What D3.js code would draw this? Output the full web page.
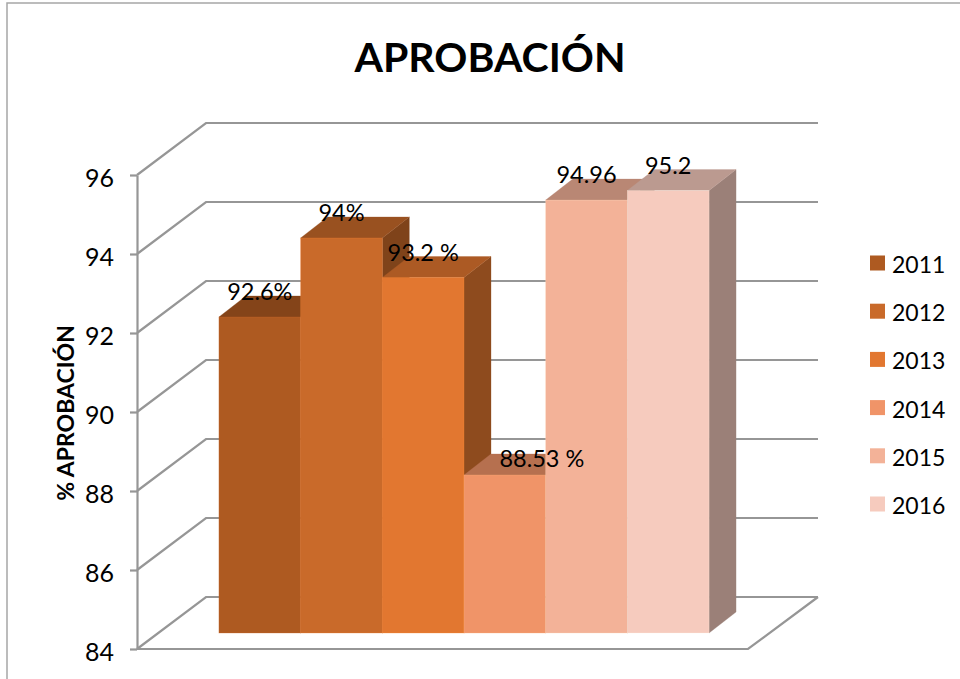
<!DOCTYPE html>
<html>
<head>
<meta charset="utf-8">
<script src="https://cdn.jsdelivr.net/npm/d3@7"></script>
<style>
	html, body { margin: 0; padding: 0; background: #fff; }
	svg { display: block; }
	text { font-family: Lato, "Open Sans", sans-serif; fill: #000; }
</style>
</head>
<body>
<div id="visHolder"></div>
<script>
const years = ["2011", "2012", "2013", "2014", "2015", "2016"];
// heights as drawn in the picture; the printed labels do not always agree
const values = [92, 94, 93, 88, 94.96, 95.2];
const valueLabels = ["92.6%", "94%", "93.2 %", "88.53 %", "94.96", "95.2"];
const colors = ["#AE5A21", "#C96A2A", "#E27730", "#F09468", "#F3B298", "#F6CBBE"];
const yTicks = [84, 86, 88, 90, 92, 94, 96];

const width = 960;
const height = 679;
const gridColor = "#969696";

// front plane of the chart box and the depth of the box
const plot = { left: 137, right: 748, top: 175, bottom: 649 };
const wallDepth = { x: 69, y: -52 };
// the bars stand a little behind the front plane
const barInset = { x: 21.5, y: -16 };
const barDepth = { x: 27, y: -21 };

const svg = d3
	.select("#visHolder")
	.append("svg")
	.attr("width", width)
	.attr("height", height)
	.attr("viewBox", [0, 0, width, height]);

const yScale = d3
	.scaleLinear()
	.domain([84, 96])
	.range([plot.bottom, plot.top]);

const xScale = d3
	.scaleBand()
	.domain(years)
	.range([plot.left + barInset.x, plot.right + barInset.x])
	.paddingInner(0)
	.paddingOuter(0.74);

const legendScale = d3
	.scalePoint()
	.domain(years)
	.range([263.5, 504.5]);

createFrame();
createWalls();
createAxis();
createBars();
createValueLabels();
createTitles();
createLegend();

function createFrame() {
	svg
		.append("path")
		.attr("fill", "none")
		.attr("stroke", "#a6a6a6")
		.attr("stroke-width", 1.5)
		.attr("d", `M7,${height}V3H${width}`);
}

function createWalls() {
	const line = d3.line();
	const walls = svg.append("g").attr("fill", "none").attr("stroke", gridColor).attr("stroke-width", 2.2);
	walls
		.selectAll("path")
		.data(yTicks)
		.join("path")
		.attr("d", (d) =>
			line([
				[plot.left, yScale(d)],
				[plot.left + wallDepth.x, yScale(d) + wallDepth.y],
				[plot.right + wallDepth.x + 1, yScale(d) + wallDepth.y],
			])
		);
	// floor
	walls
		.append("path")
		.attr("d", line([
			[plot.left, plot.bottom],
			[plot.right, plot.bottom],
			[plot.right + wallDepth.x + 1, plot.bottom + wallDepth.y],
		]));
}

function createAxis() {
	const axis = d3
		.axisLeft(yScale)
		.tickValues(yTicks)
		.tickSize(7)
		.tickSizeOuter(0)
		.tickPadding(16);
	const g = svg
		.append("g")
		.attr("transform", `translate(${plot.left},0)`)
		.call(axis);
	g.selectAll("path, line").attr("stroke", gridColor).attr("stroke-width", 2.2);
	g.selectAll("text")
		.attr("font-size", 25)
		.attr("dy", "0.44em");
}

function createBars() {
	const baseY = plot.bottom + barInset.y;
	const bars = svg
		.append("g")
		.selectAll("g")
		.data(years)
		.join("g")
		.attr("stroke-width", 0.6)
		.attr("stroke-opacity", 0.5);

	const polygon = (pts) => pts.map((p) => p.join(",")).join(" ");
	const faces = (d, i) => {
		const x0 = xScale(d);
		const x1 = x0 + xScale.bandwidth();
		const top = yScale(values[i]) + barInset.y;
		return { x0, x1, top };
	};

	// side
	bars
		.append("polygon")
		.attr("fill", (d, i) => shade(colors[i], 0.63))
		.attr("stroke", (d, i) => shade(colors[i], 0.63))
		.attr("points", (d, i) => {
			const { x1, top } = faces(d, i);
			return polygon([
				[x1, top],
				[x1 + barDepth.x, top + barDepth.y],
				[x1 + barDepth.x, baseY + barDepth.y],
				[x1, baseY],
			]);
		});
	// top
	bars
		.append("polygon")
		.attr("fill", (d, i) => shade(colors[i], 0.76))
		.attr("stroke", (d, i) => shade(colors[i], 0.76))
		.attr("points", (d, i) => {
			const { x0, x1, top } = faces(d, i);
			return polygon([
				[x0, top],
				[x1, top],
				[x1 + barDepth.x, top + barDepth.y],
				[x0 + barDepth.x, top + barDepth.y],
			]);
		});
	// front
	bars
		.append("rect")
		.attr("fill", (d, i) => colors[i])
		.attr("stroke", (d, i) => d3.color(colors[i]).brighter(0.5))
		.attr("x", (d) => xScale(d))
		.attr("width", xScale.bandwidth())
		.attr("y", (d, i) => faces(d, i).top)
		.attr("height", (d, i) => baseY - faces(d, i).top);
}

function createValueLabels() {
	svg
		.append("g")
		.attr("text-anchor", "middle")
		.attr("font-size", 23.5)
		.selectAll("text")
		.data(years)
		.join("text")
		.text((d, i) => valueLabels[i])
		.attr("x", (d) => {
			// the 2014 label was dragged to the right in the original
			const nudge = d === "2014" ? 37 : 0;
			return xScale(d) + xScale.bandwidth() / 2 + nudge;
		})
		.attr("y", (d, i) => {
			const nudge = d === "2014" ? 9 : 0;
			return yScale(values[i]) + barInset.y - 17 + nudge;
		});
}

function createTitles() {
	svg
		.append("text")
		.text("APROBACIÓN")
		.attr("x", 490)
		.attr("y", 72)
		.attr("text-anchor", "middle")
		.attr("font-weight", 700)
		.attr("font-size", 41);

	svg
		.append("text")
		.text("% APROBACIÓN")
		.attr("transform", "translate(74,413) rotate(-90)")
		.attr("text-anchor", "middle")
		.attr("font-weight", 700)
		.attr("font-size", 23);
}

function createLegend() {
	const items = svg
		.append("g")
		.selectAll("g")
		.data(years)
		.join("g")
		.attr("transform", (d) => `translate(870,${legendScale(d)})`);
	items
		.append("rect")
		.attr("y", -8)
		.attr("width", 15)
		.attr("height", 15)
		.attr("fill", (d, i) => colors[i]);
	items
		.append("text")
		.text((d) => d)
		.attr("x", 22)
		.attr("y", 9.5)
		.attr("font-size", 23);
}

function shade(color, k) {
	const c = d3.rgb(color);
	return d3.rgb(c.r * k, c.g * k, c.b * k).formatHex();
}
</script>
</body>
</html>
